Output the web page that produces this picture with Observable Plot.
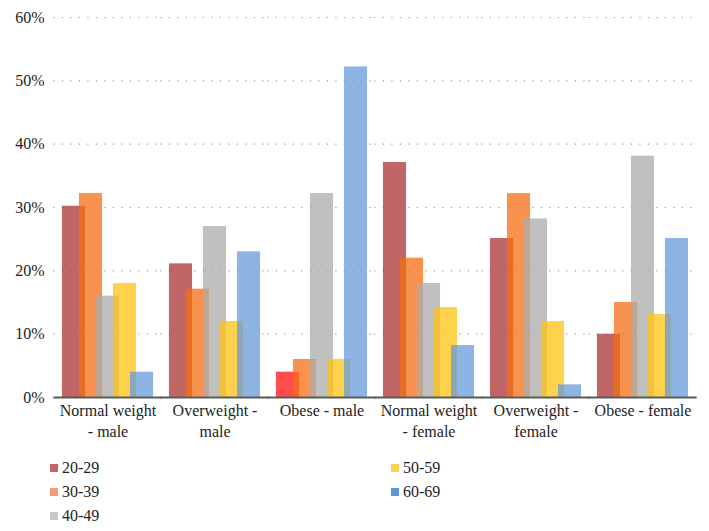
<!DOCTYPE html>
<html>
<head>
<meta charset="utf-8">
<script src="https://cdn.jsdelivr.net/npm/d3@7"></script>
<script src="https://cdn.jsdelivr.net/npm/@observablehq/plot@0.6"></script>
<style>
  html, body { margin: 0; padding: 0; background: #fff; }
  #wrap { position: relative; width: 709px; height: 531px; font-family: 'Liberation Serif', 'Times New Roman', 'DejaVu Serif', serif; color: #222; }
  #legend { position: absolute; left: 0; top: 0; width: 709px; height: 531px; pointer-events: none; }
  .item { position: absolute; display: flex; align-items: center; font-size: 16px; line-height: 20px; font-family: 'Liberation Serif', 'Times New Roman', 'DejaVu Serif', serif; }
  .sw { width: 8px; height: 8px; margin-right: 4px; }
  svg text { font-family: 'Liberation Serif', 'Times New Roman', 'DejaVu Serif', serif; }
</style>
</head>
<body>
<div id="wrap"><div id="chart"></div><div id="legend"></div></div>
<script>
// ---- data ----
const categories = [
  "Normal weight - male",
  "Overweight - male",
  "Obese - male",
  "Normal weight - female",
  "Overweight - female",
  "Obese - female"
];
const categoryLabels = [
  "Normal weight\n- male",
  "Overweight -\nmale",
  "Obese - male",
  "Normal weight\n- female",
  "Overweight -\nfemale",
  "Obese - female"
];
const ages = ["20-29", "30-39", "40-49", "50-59", "60-69"];
const s20_29 = [30.2, 21.1, 4.0, 37.1, 25.1, 10.0];
const s30_39 = [32.2, 17.1, 6.0, 22.0, 32.2, 15.0];
const s40_49 = [16.0, 27.0, 32.2, 18.0, 28.2, 38.1];
const s50_59 = [18.0, 12.0, 6.0, 14.2, 12.0, 13.1];
const s60_69 = [4.0, 23.0, 52.2, 8.2, 2.0, 25.1];
const yTicks = [0, 10, 20, 30, 40, 50, 60];

// ---- styles ----
const palette = ["#ab3333", "#f76e14", "#ababab", "#ffc312", "#679bd8"];
const legendColors = ["#c06666", "#f0a070", "#c8c8c8", "#ffd24d", "#5b97d8"];
const brightRed = "#ff1010";
const serif = "'Liberation Serif', 'Times New Roman', 'DejaVu Serif', serif";

const series = [s20_29, s30_39, s40_49, s50_59, s60_69];
const rows = [];
categories.forEach((c, ci) => {
  ages.forEach((a, ai) => {
    rows.push({category: c, age: a, value: series[ai][ci]});
  });
});
const labelOf = new Map(categories.map((c, i) => [c, categoryLabels[i]]));
const colorOf = new Map(ages.map((a, i) => [a, palette[i]]));

const W = 709, ML = 51, MR = 11;
const pIn = 0.207, pOut = 0.1035;
const step = (W - ML - MR) / (categories.length - pIn + 2 * pOut);
const gapHalf = step * pIn / 2 + 0.5; // extend rules over the gaps between facets

const chart = Plot.plot({
  width: W,
  height: 452,
  marginLeft: ML,
  marginRight: MR,
  marginTop: 17,
  marginBottom: 55,
  style: {fontFamily: serif, fontSize: "16px", color: "#222", background: "#fff"},
  fx: {domain: categories, paddingInner: pIn, paddingOuter: pOut, axis: null, label: null},
  x: {domain: ages, padding: 0, axis: null},
  y: {domain: [0, 60], axis: null},
  marks: [
    Plot.ruleY(yTicks.filter(d => d > 0), {stroke: "#9a9a9a", strokeWidth: 1.2, strokeDasharray: "1.2,7.3", insetLeft: -gapHalf, insetRight: -gapHalf}),
    Plot.barY(rows, {
      fx: "category",
      x: "age",
      y: "value",
      fill: d => (d.category === "Obese - male" && d.age === "20-29") ? brightRed : colorOf.get(d.age),
      fillOpacity: 0.75,
      insetLeft: -3.05,
      insetRight: -3.05
    }),
    Plot.ruleY([0], {stroke: "#5a5a5a", strokeWidth: 2, insetLeft: -gapHalf, insetRight: -gapHalf}),
    Plot.axisY(yTicks, {anchor: "left", tickSize: 0, tickPadding: 21, tickFormat: d => d + "%", label: null, fontSize: 16, fontFamily: serif}),
    Plot.axisFx({anchor: "bottom", tickSize: 0, tickPadding: 4, tickFormat: d => labelOf.get(d), label: null, fontSize: 16, fontFamily: serif, lineHeight: 1.3})
  ]
});
document.getElementById("chart").appendChild(chart);

// ---- legend ----
const legendPos = [
  {left: 50, top: 458}, {left: 50, top: 482}, {left: 50, top: 506},
  {left: 391, top: 458}, {left: 391, top: 482}
];
const legend = document.getElementById("legend");
ages.forEach((a, i) => {
  const it = document.createElement("div");
  it.className = "item";
  it.style.left = legendPos[i].left + "px";
  it.style.top = legendPos[i].top + "px";
  const sw = document.createElement("span");
  sw.className = "sw";
  sw.style.background = legendColors[i];
  const tx = document.createElement("span");
  tx.textContent = a;
  it.appendChild(sw);
  it.appendChild(tx);
  legend.appendChild(it);
});
</script>
</body>
</html>
